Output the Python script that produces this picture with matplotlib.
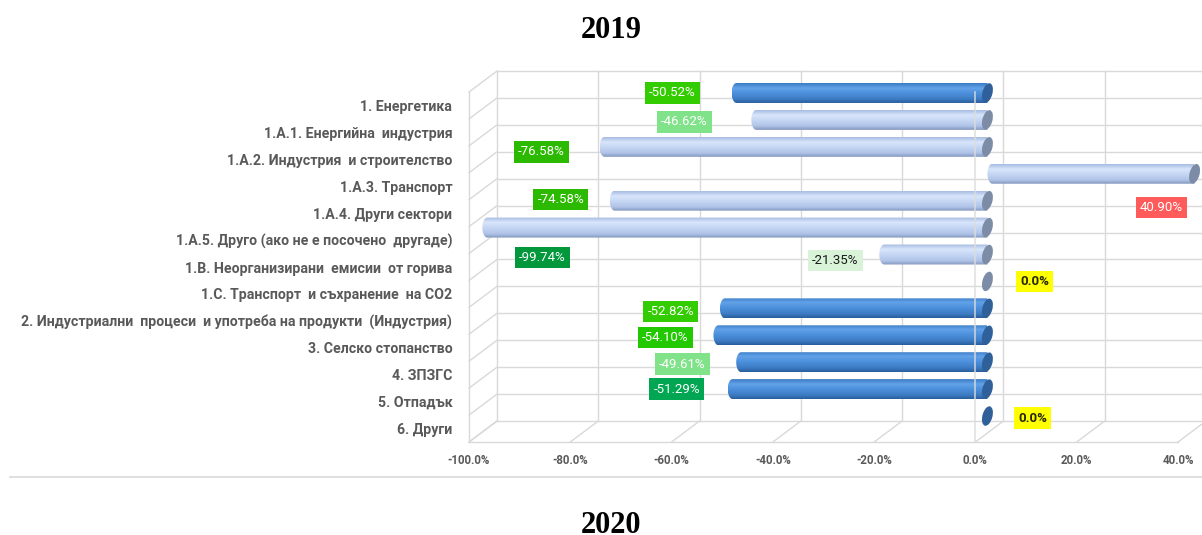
"""Change in GHG emissions by sector, 2019 (Excel-style 3D cylinder bar chart)."""

import numpy as np
import matplotlib.pyplot as plt
from matplotlib import transforms
from matplotlib.colors import to_rgb
from matplotlib.lines import Line2D
from matplotlib.patches import Ellipse, Polygon

categories = [
    "1. Енергетика",
    "1.A.1. Енергийна  индустрия",
    "1.A.2. Индустрия  и строителство",
    "1.A.3. Транспорт",
    "1.A.4. Други сектори",
    "1.A.5. Друго (ако не е посочено  другаде)",
    "1.B. Неорганизирани  емисии  от горива",
    "1.C. Транспорт  и съхранение  на CO2",
    "2. Индустриални  процеси  и употреба на продукти  (Индустрия)",
    "3. Селско стопанство",
    "4. ЗПЗГС",
    "5. Отпадък",
    "6. Други",
]
change_2019 = [-50.52, -46.62, -76.58, 40.90, -74.58, -99.74, -21.35, 0.0,
               -52.82, -54.10, -49.61, -51.29, 0.0]
is_sector = [True, False, False, False, False, False, False, False,
             True, True, True, True, True]
x_ticks = [-100, -80, -60, -40, -20, 0, 20, 40]

# data label boxes (colour scale as in the source workbook)
label_colors = ["#33CC00", "#80E38A", "#2BBA00", "#FF5B5B", "#2BBA00", "#00983A",
                "#D8F3D8", "#FFFF00", "#33CC00", "#22C800", "#80E38A", "#00A651",
                "#FFFF00"]
label_text = ["white", "white", "white", "white", "white", "white",
              "#1A1A1A", "#262600", "white", "white", "white", "white", "#262600"]
# label centre offset from the bar end, in pixels
label_offsets = [(-59, 0), (-67, -2), (-58, -5), (-33, -34), (-49, 1), (60, -30),
                 (-44, -6), (47, 0), (-49, -3), (-48, -2), (-54, -2), (-51, 0),
                 (45, -2)]

W, H = 1202, 535
fig = plt.figure(figsize=(W / 100, H / 100), dpi=100)
fig.patch.set_facecolor("white")

# front plane of the 3D box
ax_l, ax_r, ax_t, ax_b = 469, 1178, 92, 442
ax = fig.add_axes([ax_l / W, 1 - ax_b / H, (ax_r - ax_l) / W, (ax_b - ax_t) / H])
n = len(categories)
xmin, xmax = x_ticks[0], x_ticks[-1]
ax.set_xlim(xmin, xmax)
ax.set_ylim(n - 0.5, -0.5)
ax.set_autoscale_on(False)
ax.patch.set_visible(False)
for s in ax.spines.values():
    s.set_visible(False)

px_x = (ax_r - ax_l) / (xmax - xmin)
px_row = (ax_b - ax_t) / n
ddx, ddy = 28 / px_x, -21 / px_row          # depth of the box
y_top, y_bot = -0.5, n - 0.5
bounds = np.arange(n + 1) - 0.5

grid_kw = dict(color="#D9D9D9", lw=1.0, clip_on=False, zorder=1)
# back wall
for b in bounds:
    ax.plot([xmin + ddx, xmax + ddx], [b + ddy, b + ddy], **grid_kw)
for t in x_ticks:
    ax.plot([t + ddx, t + ddx], [y_top + ddy, y_bot + ddy], **grid_kw)
# left wall
ax.plot([xmin, xmin], [y_top, y_bot], **grid_kw)
for b in bounds:
    ax.plot([xmin, xmin + ddx], [b, b + ddy], **grid_kw)
# floor
ax.plot([xmin, xmax], [y_bot, y_bot], **grid_kw)
for t in x_ticks:
    ax.plot([t, t + ddx], [y_bot, y_bot + ddy], **grid_kw)

# cylinders sit half way into the box
bar_dx, bar_dy = 12 / px_x, -12.5 / px_row
bar_h = 20 / px_row
rows = np.arange(n)
bars = ax.barh(rows + bar_dy, change_2019, height=bar_h, left=bar_dx,
               color="none", zorder=3, clip_on=False)

shade = {
    True: [(0.0, "#3A7AC4"), (0.25, "#62A2E8"), (0.5, "#4C90DC"),
           (0.8, "#3D7CC4"), (1.0, "#2A5E9C")],
    False: [(0.0, "#A8BCE2"), (0.25, "#D8E5FB"), (0.5, "#C6D7F4"),
            (0.8, "#B0C4E8"), (1.0, "#8396BC")],
}
cap_color = {True: "#2F609A", False: "#7D8CA6"}


def gradient(stops, steps=64):
    pos = [p for p, _ in stops]
    cols = np.array([to_rgb(c) for _, c in stops])
    f = np.linspace(0, 1, steps)
    rgb = np.stack([np.interp(f, pos, cols[:, k]) for k in range(3)], axis=1)
    return rgb[:, None, :]


cap_a = 5 / px_x
for rect, sector in zip(bars, is_sector):
    x0, w = rect.get_x(), rect.get_width()
    yc = rect.get_y() + rect.get_height() / 2
    h = rect.get_height()
    lo, hi = min(x0, x0 + w), max(x0, x0 + w)
    if w != 0:
        t = np.linspace(np.pi / 2, 3 * np.pi / 2, 40)
        cx = lo + cap_a
        outline = np.column_stack([cx + cap_a * np.cos(t), yc + h / 2 * np.sin(t)])
        outline = np.vstack([outline, [hi, yc - h / 2], [hi, yc + h / 2]])
        body = Polygon(outline, closed=True, transform=ax.transData)
        im = ax.imshow(gradient(shade[sector]), extent=(lo, hi, yc + h / 2, yc - h / 2),
                       aspect="auto", origin="upper", interpolation="bilinear", zorder=3)
        im.set_clip_path(body)
        im.set_clip_box(fig.bbox)
    cap = Ellipse((0, 0), 10, 20, angle=-15, facecolor=cap_color[sector],
                  edgecolor="none", zorder=4, clip_on=False,
                  transform=transforms.ScaledTranslation(hi, yc, ax.transData))
    ax.add_patch(cap)

# value axis line at zero on the front plane
ax.plot([0, 0], [y_top, y_bot], color="#DCDCDC", lw=1.2, alpha=0.85, zorder=5,
        clip_on=False)

for rect, v, fc, tc, off in zip(bars, change_2019, label_colors, label_text,
                                label_offsets):
    end = (rect.get_x() + rect.get_width(), rect.get_y() + rect.get_height() / 2)
    txt = f"{v:.2f}%" if v != 0 else "0.0%"
    ax.annotate(txt, xy=end, xytext=off, textcoords="offset pixels",
                ha="center", va="center", fontsize=9.5, family="Roboto",
                fontweight="bold" if v == 0 else "normal", color=tc, zorder=6,
                annotation_clip=False,
                bbox=dict(boxstyle="square,pad=0.32", fc=fc, ec="none"))

ax.set_yticks(rows, categories)
ax.set_xticks(x_ticks, [f"{t:.1f}%" for t in x_ticks])
ax.tick_params(axis="y", length=0, pad=12)
ax.tick_params(axis="x", length=0, pad=9)
for lab in ax.get_yticklabels():
    lab.set(family="Roboto", fontweight="bold", fontsize=10.2, color="#595959")
for lab in ax.get_xticklabels():
    lab.set(family="Roboto", fontweight="bold", fontsize=8.3, color="#595959")

fig.text(611 / W, 1 - 38 / H, "2019", ha="center", va="baseline",
         family="Liberation Serif", fontweight="bold", fontsize=22)
fig.add_artist(Line2D([10 / W, 1], [1 - 477 / H, 1 - 477 / H],
                      color="#D9D9D9", lw=1.2))
fig.text(611 / W, 1 - 533 / H, "2020", ha="center", va="baseline",
         family="Liberation Serif", fontweight="bold", fontsize=22)

fig.savefig("out.png", dpi=100)
